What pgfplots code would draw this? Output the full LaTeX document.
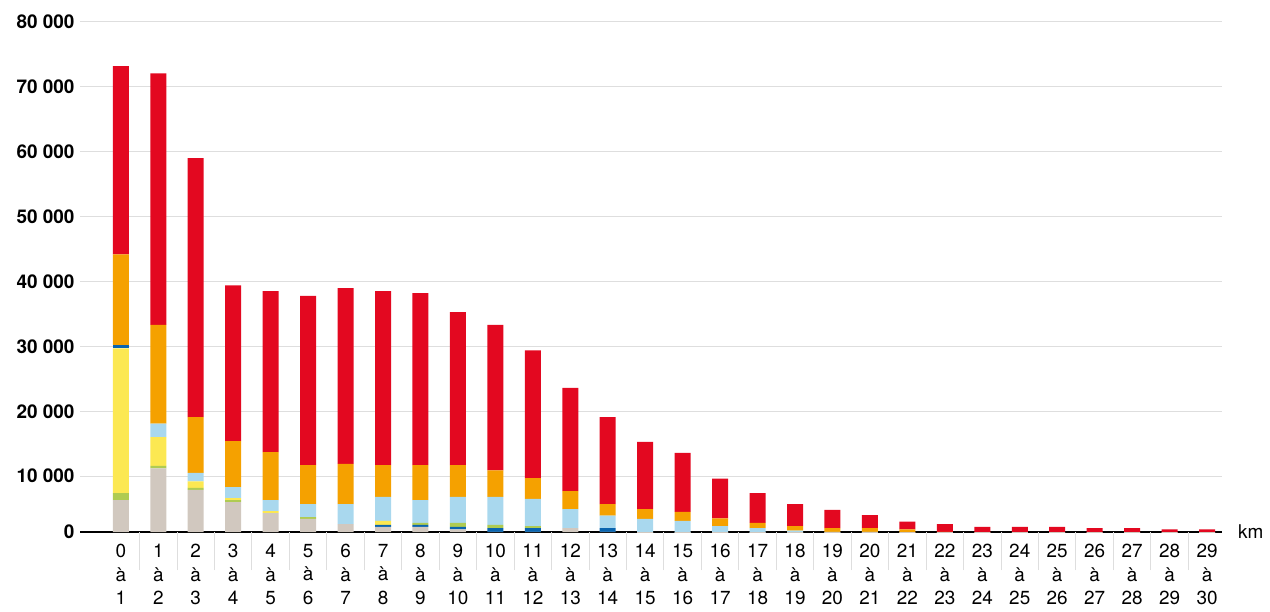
\documentclass[border=0pt]{standalone}
\usepackage{pgfplots}
\pgfplotsset{compat=1.18}
\usepackage{pgfplotstable}
\usepackage{fontspec}
\setmainfont{TeX Gyre Heros}

\definecolor{cbeige}{HTML}{D1C8BF}
\definecolor{cnavy}{HTML}{0A64AE}
\definecolor{cgreen}{HTML}{AFCB52}
\definecolor{cyellow}{HTML}{FCE852}
\definecolor{clblue}{HTML}{A9D8EE}
\definecolor{corange}{HTML}{F5A100}
\definecolor{cred}{HTML}{E30820}
\definecolor{cgrid}{HTML}{DEDEDE}

% segment heights per distance band (trips), bottom to top
\pgfplotstableread{
x  beige navy green yellow blue lblue orange red
0  6300  0    1100  22300  500  0     14000  29000
1  11200 0    400   4400   0    2100  15200  38800
2  7900  0    300   1000   0    1300  8600   39900
3  6000  0    300   300    0    1700  7100   24000
4  4300  0    0     300    0    1700  7400   24800
5  3400  0    300   0      0    2000  6000   26100
6  2600  0    0     0      0    3100  6200   27100
7  2200  300  0     600    0    3700  4900   26800
8  2200  300  300   0      0    3500  5400   26500
9  1800  400  600   0      0    4000  4900   23600
10 1400  600  500   0      0    4300  4100   22400
11 1400  600  300   0      0    4200  3200   19700
12 2000  0    0     0      0    2900  2800   15900
13 1400  600  0     0      0    1900  1800   13400
14 800   0    0     0      0    2600  1500   10400
15 800   0    0     0      0    2300  1400   9100
16 800   0    0     0      0    1500  1200   6100
17 800   0    0     0      0    1200  800    4600
18 800   0    0     0      0    800   700    3400
19 600   0    0     0      0    800   600    2800
20 600   0    0     0      0    800   600    2000
21 500   0    0     0      0    700   600    1200
22 500   0    0     0      0    500   400    1200
23 500   0    0     0      0    500   300    900
24 500   0    0     0      0    500   300    900
25 500   0    0     0      0    500   300    900
26 500   0    0     0      0    400   300    800
27 500   0    0     0      0    400   300    800
28 500   0    0     0      0    400   200    700
29 500   0    0     0      0    400   200    700
}\trips

\begin{document}
\begin{tikzpicture}
\begin{axis}[
  width=1142bp, height=510bp, scale only axis,
  ybar stacked, bar width=16bp,
  xmin=-1.09, xmax=29.4,
  ymin=1390, ymax=80000,
  scaled y ticks=false,
  axis x line*=bottom, axis y line*=left,
  y axis line style={draw=none},
  x axis line style={black, line width=2bp},
  ymajorgrids, major grid style={cgrid, line width=1bp},
  major tick length=0pt,
  ytick={1390,10000,20000,30000,40000,50000,60000,70000,80000},
  yticklabels={0,10 000,20 000,30 000,40 000,50 000,60 000,70 000,80 000},
  yticklabel style={font=\bfseries\fontsize{19}{22}\selectfont, xshift=-2bp},
  xtick={0,...,29},
  xticklabels={{0\\à\\1},{1\\à\\2},{2\\à\\3},{3\\à\\4},{4\\à\\5},{5\\à\\6},
    {6\\à\\7},{7\\à\\8},{8\\à\\9},{9\\à\\10},{10\\à\\11},{11\\à\\12},
    {12\\à\\13},{13\\à\\14},{14\\à\\15},{15\\à\\16},{16\\à\\17},{17\\à\\18},
    {18\\à\\19},{19\\à\\20},{20\\à\\21},{21\\à\\22},{22\\à\\23},{23\\à\\24},
    {24\\à\\25},{25\\à\\26},{26\\à\\27},{27\\à\\28},{28\\à\\29},{29\\à\\30}},
  xticklabel style={align=center, inner sep=0pt, yshift=-12bp,
    font=\fontsize{19}{23.5}\selectfont},
  extra x ticks={0.5,1.5,...,28.5},
  extra x tick labels={},
  extra x tick style={grid=none, major tick length=38bp, tick align=outside,
    tick style={cgrid, line width=1bp}},
  every axis plot/.append style={draw=none},
]
\addplot[fill=cbeige] table[x=x, y=beige] {\trips};
\addplot[fill=cnavy] table[x=x, y=navy] {\trips};
\addplot[fill=cgreen] table[x=x, y=green] {\trips};
\addplot[fill=cyellow] table[x=x, y=yellow] {\trips};
\addplot[fill=cnavy] table[x=x, y=blue] {\trips};
\addplot[fill=clblue] table[x=x, y=lblue] {\trips};
\addplot[fill=corange] table[x=x, y=orange] {\trips};
\addplot[fill=cred] table[x=x, y=red] {\trips};
\end{axis}
\node[anchor=west, font=\fontsize{19}{22}\selectfont, inner sep=0pt]
  at ([xshift=16bp]current axis.south east) {km};
\path ([xshift=-80bp,yshift=-79bp]current axis.south west)
  rectangle ([xshift=48bp,yshift=22bp]current axis.north east);
\end{tikzpicture}
\end{document}
